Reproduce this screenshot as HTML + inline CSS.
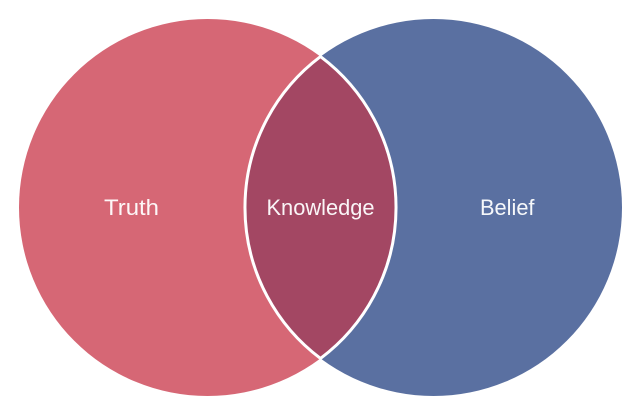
<!DOCTYPE html>
<html>
<head>
<meta charset="utf-8">
<style>
html,body{margin:0;padding:0;background:#fff;width:640px;height:413px;overflow:hidden}
svg{display:block}
text{font-family:"Liberation Sans",sans-serif;font-size:22px;fill:#fff}
</style>
</head>
<body>
<svg width="640" height="413" viewBox="0 0 640 413" xmlns="http://www.w3.org/2000/svg">
<circle cx="207.5" cy="207.5" r="188.5" fill="#d66775"/>
<circle cx="433.5" cy="207.5" r="188.5" fill="#5a70a1"/>
<path d="M320.5 56.6A188.5 188.5 0 0 1 320.5 358.4A188.5 188.5 0 0 1 320.5 56.6Z" fill="#a34763" stroke="#fff" stroke-width="3" stroke-linejoin="miter"/>
<text x="104" y="215" textLength="55" lengthAdjust="spacingAndGlyphs" fill-opacity="0.95">Truth</text>
<text x="266.5" y="215" textLength="108" lengthAdjust="spacingAndGlyphs" fill-opacity="0.95">Knowledge</text>
<text x="480" y="215" textLength="54.5" lengthAdjust="spacingAndGlyphs" fill-opacity="0.95">Belief</text>
</svg>
</body>
</html>
